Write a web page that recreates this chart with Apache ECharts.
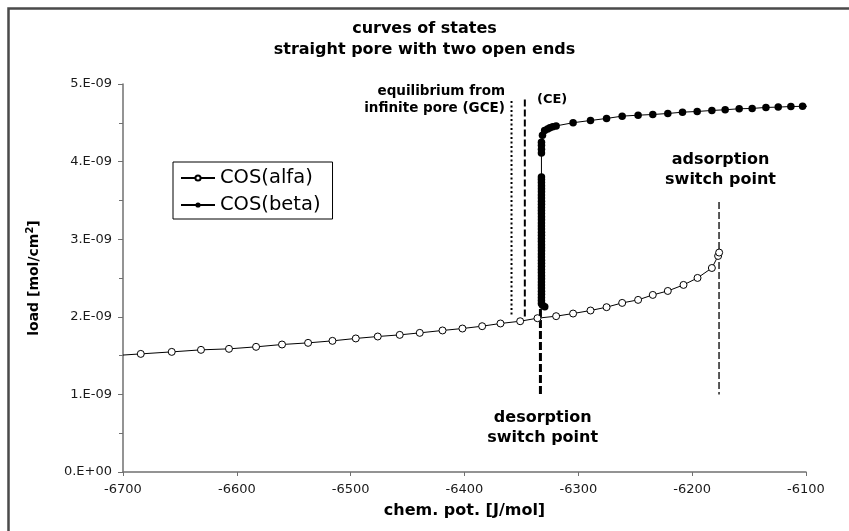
<!DOCTYPE html>
<html>
<head>
<meta charset="utf-8">
<script src="https://cdn.jsdelivr.net/npm/echarts@6/dist/echarts.min.js"></script>
<style>html,body{margin:0;padding:0;background:#fff;}#c{width:849px;height:531px;}</style>
</head>
<body>
<div id="c"></div>
<script>
// x: chem. pot. [J/mol]; y: load in units of 1E-09 mol/cm2
const alfaX = [-6700, -6684.4, -6657.2, -6631.5, -6606.9, -6583.1, -6560.3, -6537.4, -6516.0, -6495.5, -6476.2, -6456.9, -6439.3, -6419.3, -6401.8, -6384.5, -6368.4, -6351.1, -6335.9, -6319.5, -6304.6, -6289.3, -6275.2, -6261.5, -6247.5, -6234.6, -6221.4, -6207.6, -6195.3, -6182.7, -6177.2, -6176.3];
const alfaY = [1.507, 1.522, 1.548, 1.574, 1.587, 1.613, 1.643, 1.664, 1.690, 1.721, 1.746, 1.767, 1.793, 1.824, 1.849, 1.879, 1.914, 1.943, 1.982, 2.008, 2.042, 2.081, 2.124, 2.179, 2.218, 2.282, 2.333, 2.411, 2.501, 2.629, 2.784, 2.828];

// beta: the near-vertical desorption stack, then the upper branch
const betaStackX = -6332.4;
const betaStackY = [2.17, 2.21, 2.25, 2.29, 2.33, 2.37, 2.41, 2.45, 2.49, 2.53, 2.57, 2.61, 2.65, 2.69, 2.73, 2.77, 2.81, 2.85, 2.89, 2.93, 2.97, 3.01, 3.05, 3.09, 3.13, 3.17, 3.21, 3.25, 3.29, 3.33, 3.37, 3.41, 3.45, 3.49, 3.53, 3.57, 3.61, 3.65, 3.69, 3.73, 3.77, 3.80, 4.11, 4.16, 4.21, 4.25];
const betaBottom = [[-6329.5, 2.13], [-6331.5, 2.15]];
const betaUpperX = [-6331.5, -6329.6, -6327.0, -6325.0, -6322.5, -6319.5, -6304.6, -6289.3, -6275.2, -6261.5, -6247.5, -6234.6, -6221.4, -6208.5, -6195.6, -6182.7, -6171.0, -6158.7, -6147.3, -6135.2, -6124.4, -6113.3, -6103.0, -6094];
const betaUpperY = [4.34, 4.40, 4.42, 4.436, 4.45, 4.46, 4.501, 4.530, 4.556, 4.586, 4.598, 4.607, 4.620, 4.637, 4.646, 4.659, 4.668, 4.681, 4.685, 4.698, 4.702, 4.710, 4.712, 4.716];

// reference vertical lines [x, yTop, yBottom]
const gceLine = [-6358.7, 4.78, 2.01];
const ceLine = [-6347.0, 4.80, 2.00];
const desorpLine = [-6333.3, 2.10, 1.00];
const adsorpLine = [-6176.4, 3.48, 1.00];

const xTicks = [-6700, -6600, -6500, -6400, -6300, -6200, -6100];
const yTickLabels = ['0.E+00', '1.E-09', '2.E-09', '3.E-09', '4.E-09', '5.E-09'];

const FONT = 'DejaVu Sans';

const alfaData = alfaX.map((x, i) => i === 0 ? { value: [x, alfaY[i]], symbol: 'none' } : [x, alfaY[i]]);
const betaData = betaBottom.concat(betaStackY.map(y => [betaStackX, y]))
  .concat(betaUpperX.map((x, i) => i === betaUpperX.length - 1 ? { value: [x, betaUpperY[i]], symbol: 'none' } : [x, betaUpperY[i]]));

function vline(name, l, width, dash) {
  return {
    name: name, type: 'line', silent: true, symbol: 'none', clip: false,
    data: [[l[0], l[1]], [l[0], l[2]]],
    lineStyle: { color: '#000', width: width, type: dash, cap: 'butt' },
    z: 1
  };
}

const chart = echarts.init(document.getElementById('c'));
chart.setOption({
  animation: false,
  backgroundColor: '#fff',
  title: {
    text: 'curves of states\nstraight pore with two open ends',
    left: 'center', top: 13,
    textStyle: { fontFamily: FONT, fontWeight: 'bold', fontSize: 16, color: '#000', lineHeight: 21 }
  },
  grid: { left: 123, right: 43, top: 84, bottom: 59, containLabel: false },
  legend: {
    data: ['COS(alfa)', 'COS(beta)'],
    orient: 'vertical', left: 173, top: 162,
    padding: [6, 12, 4, 7], itemGap: 7, itemWidth: 34, itemHeight: 6.5,
    borderColor: '#000', borderWidth: 1, backgroundColor: '#fff',
    textStyle: { fontFamily: FONT, fontSize: 19.5, color: '#000' }
  },
  xAxis: {
    type: 'value', min: -6700, max: -6100, interval: 100,
    name: 'chem. pot. [J/mol]', nameLocation: 'middle', nameGap: 31,
    nameTextStyle: { fontFamily: FONT, fontWeight: 'bold', fontSize: 16, color: '#000' },
    axisLine: { onZero: false, lineStyle: { color: '#707070', width: 1.5 } },
    axisTick: { show: true, inside: false, length: 4, lineStyle: { color: '#707070', width: 1 } },
    axisLabel: { margin: 11, fontFamily: FONT, fontSize: 13, color: '#1a1a1a',
      formatter: v => String(xTicks[xTicks.indexOf(v)] ?? v) },
    splitLine: { show: false }
  },
  yAxis: {
    type: 'value', min: 0, max: 5, interval: 1,
    name: '{a|load [mol/cm}{s|2}{a|]}', nameLocation: 'middle', nameGap: 80, nameRotate: 90,
    nameTextStyle: {
      rich: {
        a: { fontFamily: FONT, fontWeight: 'bold', fontSize: 14, color: '#000' },
        s: { fontFamily: FONT, fontWeight: 'bold', fontSize: 10, color: '#000', padding: [0, 0, 8, 0] }
      }
    },
    axisLine: { show: true, lineStyle: { color: '#707070', width: 1.5 } },
    axisTick: { show: true, inside: false, length: 5, lineStyle: { color: '#707070', width: 1 } },
    minorTick: { show: true, splitNumber: 2, length: 4, lineStyle: { color: '#707070', width: 1 } },
    axisLabel: { margin: 11, fontFamily: FONT, fontSize: 13, color: '#1a1a1a',
      formatter: v => yTickLabels[Math.round(v)] },
    splitLine: { show: false }
  },
  graphic: [
    { type: 'rect', z: -10, silent: true, shape: { x: 8.5, y: 8.5, width: 1000, height: 1000 },
      style: { fill: 'none', stroke: '#4a4a4a', lineWidth: 2.5 } },
    { type: 'text', silent: true, style: { text: 'equilibrium from\ninfinite pore (GCE)', x: 505, y: 100,
      fontFamily: FONT, fontWeight: 'bold', fontSize: 13.5, lineHeight: 17, fill: '#000',
      align: 'right', verticalAlign: 'middle', textAlign: 'right', textVerticalAlign: 'middle' } },
    { type: 'text', silent: true, style: { text: '(CE)', x: 537, y: 100,
      fontFamily: FONT, fontWeight: 'bold', fontSize: 13, fill: '#000',
      align: 'left', verticalAlign: 'middle', textAlign: 'left', textVerticalAlign: 'middle' } },
    { type: 'text', silent: true, style: { text: 'adsorption\nswitch point', x: 720.5, y: 170,
      fontFamily: FONT, fontWeight: 'bold', fontSize: 16, lineHeight: 20, fill: '#000',
      align: 'center', verticalAlign: 'middle', textAlign: 'center', textVerticalAlign: 'middle' } },
    { type: 'text', silent: true, style: { text: 'desorption\nswitch point', x: 542.7, y: 428,
      fontFamily: FONT, fontWeight: 'bold', fontSize: 16, lineHeight: 20, fill: '#000',
      align: 'center', verticalAlign: 'middle', textAlign: 'center', textVerticalAlign: 'middle' } }
  ],
  series: [
    vline('gce', gceLine, 2, [2, 2.5]),
    vline('ce', ceLine, 2, [7, 3]),
    vline('desorp', desorpLine, 3, [8, 3]),
    vline('adsorp', adsorpLine, 1.3, [7, 3]),
    {
      name: 'COS(alfa)', type: 'line', data: alfaData, clip: false,
      symbol: 'circle', symbolSize: 7, showSymbol: true,
      lineStyle: { color: '#000', width: 1 },
      itemStyle: { color: '#fff', borderColor: '#000', borderWidth: 1 },
      z: 3
    },
    {
      name: 'COS(beta)', type: 'line', data: betaData, clip: false,
      symbol: 'circle', symbolSize: 7.5, showSymbol: true,
      lineStyle: { color: '#000', width: 1 },
      itemStyle: { color: '#000', borderColor: '#000', borderWidth: 0 },
      z: 4
    }
  ]
});
</script>
</body>
</html>
